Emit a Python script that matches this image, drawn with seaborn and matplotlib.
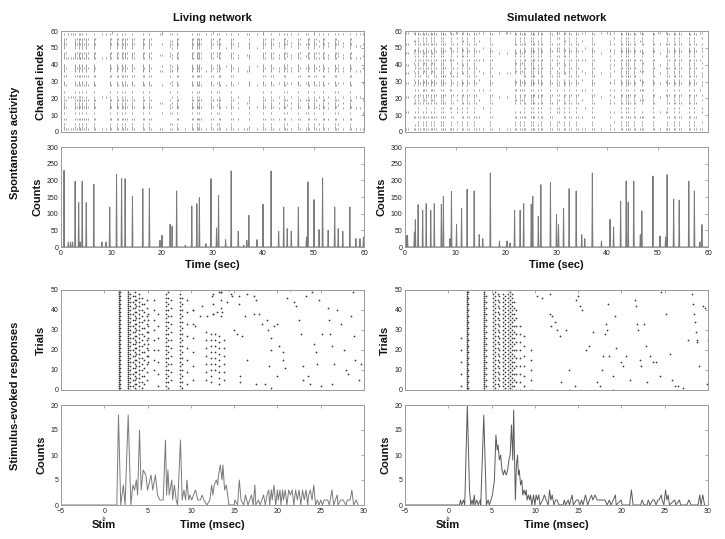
import numpy as np
import pandas as pd
import matplotlib
matplotlib.use("Agg")
import matplotlib.pyplot as plt
import seaborn as sns
from matplotlib.transforms import blended_transform_factory

# ---------------- data ----------------
# spontaneous bursts (time in sec, peak count)
living_burst_t = [0.6, 1.45, 1.9, 2.3, 2.8, 3.5, 3.8, 4.2, 5.0, 6.5, 8.1, 8.9, 9.65, 11.0, 12.0,
                  12.7, 14.15, 16.2, 17.5, 19.6, 20.0, 21.6, 22.0, 22.9, 24.6, 25.9, 26.9, 27.4, 28.7, 29.7,
                  30.8, 31.2, 32.6, 33.7, 35.1, 36.2, 36.8, 37.2, 38.8, 40.0, 41.6, 43.1, 44.1, 44.8, 45.6,
                  47.0, 48.6, 48.9, 50.1, 51.1, 51.8, 52.9, 54.2, 54.9, 55.8, 57.2, 58.4, 59.2, 59.9]
living_burst_h = [230, 15, 15, 15, 197, 133, 15, 197, 133, 188, 15, 15, 120, 218, 205,
                  205, 152, 175, 175, 20, 35, 68, 62, 168, 5, 123, 130, 148, 10, 205,
                  57, 155, 22, 228, 47, 5, 20, 95, 22, 128, 228, 47, 120, 55, 47,
                  120, 30, 195, 142, 52, 207, 50, 120, 55, 47, 120, 25, 25, 30]
sim_burst_t = [0.2, 0.5, 1.85, 2.05, 2.6, 3.5, 4.2, 5.1, 5.8, 7.2, 7.6, 8.9, 9.2, 10.2, 11.2,
               12.3, 13.7, 14.7, 15.4, 16.9, 18.7, 20.2, 20.8, 21.7, 22.8, 23.5, 25.0, 25.3, 26.4, 26.9,
               28.8, 30.0, 30.4, 31.4, 32.5, 33.9, 35.0, 35.6, 37.1, 38.9, 40.6, 41.3, 42.7, 43.8, 44.2,
               45.3, 46.6, 46.9, 49.1, 50.5, 51.6, 51.9, 53.2, 54.3, 56.2, 57.3, 58.4, 58.8]
sim_burst_h = [35, 35, 45, 82, 127, 110, 130, 110, 130, 128, 152, 25, 167, 67, 115,
               173, 168, 37, 25, 222, 18, 18, 12, 110, 110, 130, 128, 152, 92, 187,
               193, 97, 67, 115, 175, 168, 37, 25, 222, 18, 83, 60, 137, 198, 135,
               198, 37, 108, 213, 33, 30, 217, 143, 140, 197, 168, 15, 67]

# channels that take part in bursts
living_channels = [2, 3, 5, 8, 11, 14, 15, 16, 17, 19, 21, 24, 28, 29, 30, 33, 36, 37, 38, 39,
                   40, 44, 45, 46, 47, 50, 51, 52, 53, 54, 55, 58]
sim_channels = [2, 4, 6, 9, 12, 14, 17, 19, 21, 22, 25, 28, 29, 30, 31, 33, 35, 36, 38, 40,
                41, 43, 45, 47, 48, 49, 50, 52, 54, 56, 58, 59]

# stimulus-evoked PSTH vertices (time in msec, count)
living_psth_t = [-5, 1.45, 1.64, 1.9, 2.2, 2.4, 2.76, 3.07, 3.3, 3.5, 3.7, 3.85, 4.07, 4.26, 4.5, 4.8,
                 5.0, 5.4, 5.6, 5.9, 6.15, 6.4, 6.8, 7.07, 7.2, 7.35, 7.5, 7.8, 7.9, 8.1, 8.3, 8.47,
                 8.8, 9.0, 9.2, 9.4, 9.55, 9.75, 9.9, 10.1, 10.3, 10.55, 10.8, 11.1, 11.3, 11.5, 11.85,
                 12.2, 12.4, 12.55, 12.7, 12.95, 13.1, 13.2, 13.4, 13.6, 13.7, 13.9, 14.1, 14.25, 14.4,
                 15.0, 15.1, 15.4, 15.6, 15.8, 16.1, 16.3, 16.6, 17.0, 17.2, 17.4, 17.5, 17.8, 18.0,
                 18.4, 18.6, 18.8, 19.0, 19.1, 19.3, 19.4, 19.6, 19.8, 20.0, 20.1, 20.3, 20.4, 20.6,
                 20.7, 20.9, 21.1, 21.3, 21.5, 21.7, 21.9, 22.1, 22.3, 22.5, 22.7, 22.9, 23.1, 23.3,
                 23.5, 23.6, 23.8, 24.0, 24.2, 24.4, 24.6, 24.8, 25.0, 25.2, 25.4, 25.8, 26.0, 26.3,
                 26.5, 26.7, 26.9, 27.0, 27.3, 27.6, 27.9, 28.1, 28.4, 28.6, 28.8, 29.1, 29.3]
living_psth_c = [0, 0, 18, 0, 4, 0, 18, 0, 4, 3, 5, 2, 15, 3, 7, 6,
                 3, 6, 3, 6, 2, 1, 1, 13, 2, 7, 2, 5, 1, 4, 1, 0,
                 13, 1, 3, 1, 5, 1, 2, 1, 2, 3, 1, 1, 2, 1, 0,
                 1, 4, 2, 4, 5, 4, 6, 8, 5, 8, 3, 4, 2, 0,
                 0, 1, 0, 5, 1, 0, 2, 0, 2, 0, 4, 0, 1, 0,
                 2, 0, 2, 3, 0, 3, 1, 4, 0, 3, 1, 3, 0, 3,
                 1, 3, 0, 3, 2, 3, 0, 3, 1, 3, 0, 3, 1, 3,
                 0, 2, 3, 1, 4, 0, 1, 0, 1, 0, 1, 1, 0, 3,
                 0, 1, 2, 0, 1, 1, 0, 1, 1, 3, 0, 1, 0]
sim_psth_t = [-5, 1.3, 1.4, 1.55, 1.75, 1.9, 2.2, 2.45, 2.6, 2.75, 2.87, 3.0, 3.1, 3.3, 3.45, 3.7, 3.75,
              4.1, 4.4, 4.6, 4.75, 5.1, 5.33, 5.5, 5.65, 5.75, 5.9, 6.05, 6.2, 6.37, 6.5, 6.7, 6.85,
              7.0, 7.15, 7.3, 7.45, 7.55, 7.75, 7.87, 8.0, 8.1, 8.2, 8.35, 8.5, 8.6, 8.75, 8.9, 9.0,
              9.1, 9.25, 9.4, 9.5, 9.65, 9.85, 10.0, 10.15, 10.3, 10.45, 10.6, 10.9, 11.1, 11.3,
              11.55, 11.7, 11.85, 12.0, 12.2, 12.4, 12.55, 12.8, 13.25, 13.4, 13.55, 13.85, 14.0,
              14.3, 14.45, 14.8, 15.0, 15.2, 15.4, 15.55, 15.85, 16.1, 16.3, 16.55, 16.7, 16.95,
              17.2, 17.4, 17.65, 17.9, 18.1, 18.35, 18.6, 18.8, 19.05, 19.3, 19.4, 19.95, 20.1,
              20.95, 21.15, 21.35, 22.2, 22.4, 22.6, 22.95, 23.1, 23.3, 23.6, 23.8, 24.0, 24.2,
              24.35, 24.6, 24.7, 24.9, 25.1, 25.25, 25.4, 25.55, 26.15, 26.3, 26.7, 26.85, 27.55,
              27.8, 28.05, 28.85, 29.05, 29.2, 29.4, 29.6]
sim_psth_c = [0, 0, 1, 0, 1, 0, 20, 3, 0, 1, 0, 2, 0, 1, 0, 1, 0,
              18, 0, 1, 0, 2, 5, 14, 11, 12, 9, 10, 7, 6, 7, 6, 7,
              9, 10, 16, 9, 19, 1, 8, 10, 6, 7, 4, 5, 2, 3, 2, 3,
              1, 2, 1, 2, 0, 2, 0, 2, 1, 2, 0, 1, 2, 1,
              0, 3, 1, 2, 0, 1, 1, 0, 0, 1, 0, 1, 0,
              2, 0, 1, 1, 0, 1, 0, 2, 0, 1, 2, 1, 2,
              1, 1, 1, 1, 1, 0, 1, 0, 1, 2, 0, 1, 0,
              0, 3, 0, 0, 1, 0, 0, 1, 0, 1, 1, 0, 1,
              1, 2, 1, 0, 3, 1, 2, 0, 1, 0, 1, 0, 0,
              1, 0, 0, 2, 0, 2, 0]

# stimulus-evoked raster: aligned spike columns (time, first trial, last trial, trial step)
living_col_t = [1.65, 1.85, 2.75, 2.95, 3.3, 3.5, 3.7, 4.0, 4.3, 4.6, 4.9, 5.1, 5.7, 6.2,
                7.1, 7.4, 7.7, 8.8, 9.0, 9.5, 10.2, 11.8, 12.3, 12.8, 13.3, 13.8, 12.5, 13.5]
living_col_lo = [0, 1, 0, 0, 2, 1, 0, 0, 1, 3, 5, 14, 10, 2, 0, 1, 5, 0, 1, 3, 5, 5, 4, 10, 3, 5, 38, 37]
living_col_hi = [50, 49, 50, 49, 48, 50, 47, 48, 46, 45, 45, 40, 45, 40, 48, 49, 48, 50, 48, 45, 40,
                 30, 30, 29, 29, 25, 49, 49]
living_col_step = [1, 2, 1, 2, 3, 2, 3, 2, 3, 4, 4, 3, 5, 6, 2, 3, 4, 2, 3, 6, 7, 4, 3, 3, 3, 4, 5, 4]
sim_col_t = [1.5, 2.2, 2.3, 4.15, 4.35, 5.2, 5.45, 5.7, 5.9, 6.35, 6.6, 6.85, 7.1, 7.35, 7.6, 7.85,
             8.3, 8.8, 9.5]
sim_col_lo = [2, 0, 1, 0, 2, 0, 1, 0, 2, 0, 1, 0, 1, 0, 2, 0, 0, 2, 0]
sim_col_hi = [28, 50, 49, 50, 48, 49, 50, 48, 49, 49, 48, 50, 49, 48, 46, 40, 35, 30, 20]
sim_col_step = [6, 1, 3, 1, 3, 2, 2, 3, 3, 2, 2, 2, 2, 2, 3, 4, 4, 5, 5]

# stimulus-evoked raster: isolated late spikes (time, trial)
living_sc_t = [11.1, 11.9, 12.6, 13.0, 13.6, 14.2, 14.6, 14.8, 12.4, 13.2, 13.5, 14.4, 11.3, 10.3, 10.5,
               15.6, 15.6, 16.3, 16.5, 17.3, 17.5, 17.3, 17.9, 18.2, 18.8, 18.9, 19.2, 19.2, 19.0, 18.6,
               19.3, 20.0, 19.6, 20.0, 20.2, 20.6, 20.7, 20.9, 21.1, 21.5, 21.9, 22.2, 22.5, 22.7, 22.9,
               23.0, 23.3, 23.5, 23.8, 24.0, 24.2, 24.4, 24.6, 24.8, 25.0, 25.2, 25.8, 26.0, 26.1, 26.3,
               26.5, 26.9, 27.3, 27.7, 27.9, 28.1, 28.5, 28.7, 28.9, 29.0, 29.4, 29.6, 26.3, 15.7, 15.7,
               15.9, 15.0, 15.3, 16.5, 17.5]
living_sc_trial = [37, 37, 38, 39, 39, 44, 48, 47, 47, 49, 49, 50, 42, 40, 32,
                   47, 43, 37, 48, 47, 45, 38, 38, 33, 35, 30, 26, 20, 12, 3,
                   1, 7, 32, 33, 22, 19, 15, 11, 46, 50, 44, 42, 35, 28, 12,
                   5, 47, 7, 3, 49, 23, 19, 13, 45, 2, 28, 41, 35, 28, 22,
                   13, 40, 33, 20, 10, 8, 37, 49, 27, 15, 5, 13, 3, 7, 4,
                   27, 30, 28, 15, 3]
sim_sc_t = [10.2, 10.8, 11.7, 11.8, 12.0, 11.9, 12.3, 12.5, 12.9, 13.0, 13.6, 14.0, 14.0, 14.6, 14.7,
            15.0, 15.2, 15.4, 15.9, 16.3, 16.7, 17.2, 17.5, 17.8, 17.9, 18.1, 18.3, 18.2, 18.4, 18.6,
            19.0, 19.0, 19.2, 19.4, 20.0, 20.2, 20.5, 21.0, 21.6, 21.7, 21.8, 21.9, 22.1, 22.3, 22.6,
            22.8, 22.9, 23.3, 23.6, 24.0, 24.4, 24.6, 25.2, 25.6, 25.8, 26.2, 26.5, 27.1, 27.7, 28.1,
            28.3, 28.4, 28.5, 28.6, 28.7, 28.75, 29.0, 29.4, 29.6, 29.9, 29.95]
sim_sc_trial = [47, 46, 48, 38, 37, 32, 34, 30, 27, 4, 30, 10, 0, 2, 45,
                47, 42, 40, 20, 22, 29, 4, 2, 10, 17, 28, 30, 33, 43, 17,
                0, 7, 37, 21, 14, 12, 17, 5, 45, 42, 33, 30, 15, 12, 33,
                22, 4, 17, 14, 14, 7, 49, 38, 18, 5, 2, 2, 1, 25, 48,
                43, 38, 34, 29, 25, 24, 12, 42, 41, 3, 25]

# ---------------- helpers ----------------
W, H = 725, 539


def px_axes(fig, x0, y0, x1, y1):
    return fig.add_axes([x0 / W, 1 - y1 / H, (x1 - x0) / W, (y1 - y0) / H])


def style(ax):
    for s in ax.spines.values():
        s.set_color("#9a9a9a")
        s.set_linewidth(0.7)
        s.set_visible(True)
    ax.tick_params(direction="in", length=2.5, width=0.6, color="#9a9a9a",
                   labelcolor="#222222", labelsize=5, top=True, right=True, pad=2)


def burst_frames(times, heights, channels):
    """Spikes of each burst: the larger the burst, the more channels take part;
    big bursts also leave a thinner echo column just after the peak."""
    xs, ys = [], []
    n = len(channels)
    for t, h in zip(times, heights):
        frac = min(1.0, h / 120.0)
        k = max(1, int(round(n * frac)))
        idx = np.unique(np.linspace(0, n - 1, k).round().astype(int))
        for i in idx:
            xs.append(t)
            ys.append(channels[i])
        if h >= 100:
            for i in idx[::3]:
                xs.append(t + 0.3)
                ys.append(channels[i])
    return pd.DataFrame({"t": xs, "ch": ys})


def burst_trace(times, heights):
    xs, ys = [0.0], [0.0]
    for t, h in zip(times, heights):
        xs += [t - 0.09, t, t + 0.09]
        ys += [0, h, 0]
    xs.append(60.0)
    ys.append(0.0)
    return pd.DataFrame({"t": xs, "c": ys})


def raster_frame(col_t, col_lo, col_hi, col_step, sc_t, sc_trial):
    xs, ys = [], []
    for t, lo, hi, st in zip(col_t, col_lo, col_hi, col_step):
        for tr in range(lo, hi + 1, st):
            xs.append(t)
            ys.append(tr)
    xs += list(sc_t)
    ys += list(sc_trial)
    return pd.DataFrame({"t": xs, "trial": ys})


sns.set_theme(style="white")
plt.rcParams["font.family"] = ["Liberation Sans", "DejaVu Sans"]

fig = plt.figure(figsize=(W / 100, H / 100), dpi=100)

cols = [
    dict(x0=61, x1=364, title="Living network", bt=living_burst_t, bh=living_burst_h,
         ch=living_channels, pt=living_psth_t, pc=living_psth_c, color="#7a7a7a",
         ct=living_col_t, clo=living_col_lo, chi=living_col_hi, cst=living_col_step,
         st=living_sc_t, str_=living_sc_trial),
    dict(x0=405, x1=708, title="Simulated network", bt=sim_burst_t, bh=sim_burst_h,
         ch=sim_channels, pt=sim_psth_t, pc=sim_psth_c, color="#5a5a5a",
         ct=sim_col_t, clo=sim_col_lo, chi=sim_col_hi, cst=sim_col_step,
         st=sim_sc_t, str_=sim_sc_trial),
]

label_kw = dict(fontsize=8, fontweight="bold", color="#111111")

for c in cols:
    # spontaneous raster
    ax1 = px_axes(fig, c["x0"], 31, c["x1"], 132)
    df = burst_frames(c["bt"], c["bh"], c["ch"])
    sns.scatterplot(data=df, x="t", y="ch", ax=ax1, marker="|", s=3, color="#7c7c7c",
                    linewidth=0.5, legend=False)
    ax1.set_xlim(0, 60)
    ax1.set_ylim(0, 60)
    ax1.set_xticks(np.arange(0, 61, 10))
    ax1.set_xticklabels([])
    ax1.set_yticks(np.arange(0, 61, 10))
    ax1.set_xlabel("")
    ax1.set_ylabel("Channel index", labelpad=3, **label_kw)
    style(ax1)
    ax1.set_title(c["title"], fontsize=8, fontweight="bold", pad=7, color="#111111")

    # spontaneous counts
    ax2 = px_axes(fig, c["x0"], 147, c["x1"], 247)
    sns.lineplot(data=burst_trace(c["bt"], c["bh"]), x="t", y="c", ax=ax2, color="#7a7a7a",
                 linewidth=0.7, estimator=None, sort=False)
    ax2.set_xlim(0, 60)
    ax2.set_ylim(0, 300)
    ax2.set_xticks(np.arange(0, 61, 10))
    ax2.set_yticks(np.arange(0, 301, 50))
    ax2.set_xlabel("Time (sec)", labelpad=2, **label_kw)
    ax2.set_ylabel("Counts", labelpad=3, **label_kw)
    style(ax2)

    # evoked raster
    ax3 = px_axes(fig, c["x0"], 290, c["x1"], 390)
    rdf = raster_frame(c["ct"], c["clo"], c["chi"], c["cst"], c["st"], c["str_"])
    sns.scatterplot(data=rdf, x="t", y="trial", ax=ax3, s=1.6, color="#3a3a3a",
                    linewidth=0, legend=False)
    ax3.set_xlim(-5, 30)
    ax3.set_ylim(0, 50)
    ax3.set_xticks(np.arange(-5, 31, 5))
    ax3.set_xticklabels([])
    ax3.set_yticks(np.arange(0, 51, 10))
    ax3.set_xlabel("")
    ax3.set_ylabel("Trials", labelpad=3, **label_kw)
    style(ax3)

    # evoked PSTH
    ax4 = px_axes(fig, c["x0"], 405, c["x1"], 505)
    sns.lineplot(data=pd.DataFrame({"t": c["pt"], "c": c["pc"]}), x="t", y="c", ax=ax4,
                 color=c["color"], linewidth=0.7, estimator=None, sort=False)
    ax4.set_xlim(-5, 30)
    ax4.set_ylim(0, 20)
    ax4.set_xticks(np.arange(-5, 31, 5))
    ax4.set_yticks(np.arange(0, 21, 5))
    ax4.set_xlabel("Time (msec)", labelpad=4, **label_kw)
    ax4.set_ylabel("Counts", labelpad=3, **label_kw)
    style(ax4)
    tr = blended_transform_factory(ax4.transData, ax4.transAxes)
    ax4.text(0, -0.12, "▲", transform=tr, ha="center", va="center", fontsize=3.5,
             color="#8a8a8a", family=["DejaVu Sans"])
    ax4.text(0, -0.2, "Stim", transform=tr, ha="center", va="center", **label_kw)

fig.text(15 / W, 1 - 143 / H, "Spontaneous activity", rotation=90, ha="center", va="center",
         **label_kw)
fig.text(15 / W, 1 - 396 / H, "Stimulus-evoked responses", rotation=90, ha="center",
         va="center", **label_kw)

fig.savefig("out.png", dpi=100, facecolor="white")
